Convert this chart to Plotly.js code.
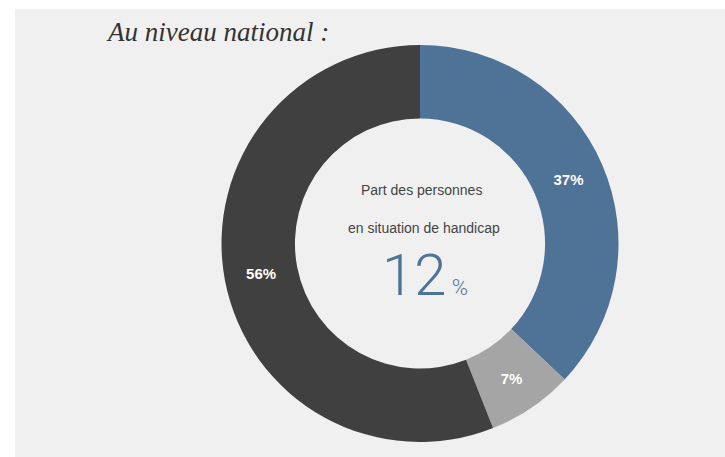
<!DOCTYPE html>
<html>
<head>
<meta charset="utf-8">
<script src="https://cdn.plot.ly/plotly-3.0.1.min.js"></script>
<style>
  html, body { margin: 0; padding: 0; background: #ffffff; width: 725px; height: 457px; overflow: hidden; }
  #chart { position: absolute; left: 15px; top: 9px; width: 710px; height: 448px; }
</style>
</head>
<body>
<div id="chart"></div>
<script>
const categories = ["Catégorie A", "Catégorie B", "Catégorie C"];
const values = [37, 7, 56];
const sliceColors = ["#4f7396", "#a5a5a5", "#404040"];
const titleText = "Au niveau national :";
const centerLine1 = "Part des personnes";
const centerLine2 = "en situation de handicap";
const centerValue = "12";
const centerUnit = "%";

const W = 710, H = 448;
const cx = 405, cy = 234.5, R = 198.5;

const trace = {
  type: "pie",
  labels: categories,
  values: values,
  sort: false,
  direction: "clockwise",
  rotation: 0,
  hole: 0.63,
  marker: { colors: sliceColors, line: { width: 0 } },
  textinfo: "percent",
  texttemplate: "%{value}%",
  textposition: "inside",
  insidetextorientation: "horizontal",
  textfont: { color: "#ffffff", size: 15, family: "Liberation Sans, Arial, sans-serif", weight: "bold" },
  hoverinfo: "none",
  showlegend: false,
  domain: {
    x: [(cx - R) / W, (cx + R) / W],
    y: [(H - cy - R) / H, (H - cy + R) / H]
  }
};

const layout = {
  width: W,
  height: H,
  margin: { l: 0, r: 0, t: 0, b: 0 },
  paper_bgcolor: "#f0f0f0",
  plot_bgcolor: "#f0f0f0",
  showlegend: false,
  annotations: [
    {
      text: "<i>" + titleText + "</i>", xref: "paper", yref: "paper",
      x: 89 / W, y: 1 - 23 / H, xanchor: "left", yanchor: "middle", showarrow: false,
      font: { family: "Liberation Serif, DejaVu Serif, serif", size: 27, color: "#333333", style: "italic" }
    },
    {
      text: centerLine1, xref: "paper", yref: "paper",
      x: 406 / W, y: 1 - 181 / H, xanchor: "center", yanchor: "middle", showarrow: false,
      font: { family: "Liberation Sans, Arial, sans-serif", size: 14, color: "#444444" }
    },
    {
      text: centerLine2, xref: "paper", yref: "paper",
      x: 409 / W, y: 1 - 219 / H, xanchor: "center", yanchor: "middle", showarrow: false,
      font: { family: "Liberation Sans, Arial, sans-serif", size: 14, color: "#444444" }
    },
    {
      text: centerValue + "<span style='font-size:22px'> " + centerUnit + "</span>",
      xref: "paper", yref: "paper",
      x: 410 / W, y: 1 - 266 / H, xanchor: "center", yanchor: "middle", showarrow: false,
      font: { family: "Roboto, Liberation Sans, sans-serif", size: 58, color: "#4f7396", weight: 300 }
    }
  ]
};

Plotly.newPlot("chart", [trace], layout, { staticPlot: true, displayModeBar: false });
</script>
</body>
</html>
